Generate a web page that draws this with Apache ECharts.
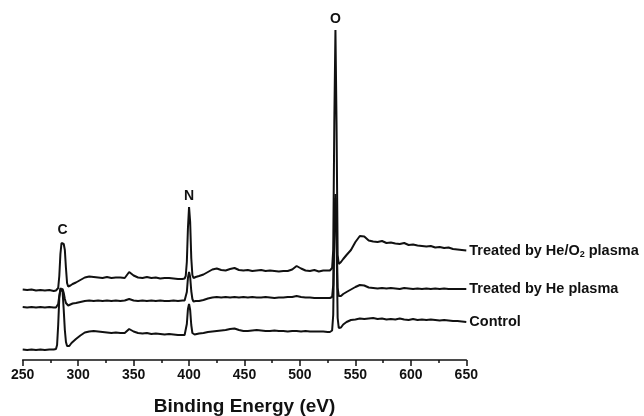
<!DOCTYPE html>
<html>
<head>
<meta charset="utf-8">
<script src="https://cdn.jsdelivr.net/npm/echarts@6/dist/echarts.min.js"></script>
<style>
  html, body { margin: 0; padding: 0; background: #fff; }
  #chart { width: 644px; height: 416px; }
</style>
</head>
<body>
<div id="chart"></div>
<script>
// Binding energy grid (eV)
const energy = [
  250,254,258,262,266,270,274,278,
  279,280,281,282,283,284,285,286,287,288,289,290,291,292,293,294,295,
  298,302,306,310,314,318,322,326,330,334,338,342,346,350,354,358,362,366,370,374,378,382,386,390,394,
  396,397,398,399,400,401,402,403,404,405,406,
  409,413,417,421,425,429,433,437,441,445,449,453,457,461,465,469,473,477,481,485,489,493,497,501,505,509,513,517,521,525,
  527,528,529,530,531,532,533,534,535,536,537,538,539,
  542,546,550,554,558,562,566,570,574,578,582,586,590,594,598,602,606,610,614,618,622,626,630,634,638,642,646,650
];

// Intensities (a.u., stacked with offsets as in the figure)
const heO2Plasma = [
  70.5,70,70.5,69.5,70,69.5,70,69,
  69,69.5,70,72,84,106,117,119,116,110,92,77,73.5,74,74.5,75.5,76,
  77.5,80,82.5,83.5,83,82.5,82,83,82,82.5,82.5,82,88,84.5,82.5,82,83,82,82.5,81.5,82,82,81.5,81,81,
  81.5,84,98,132,153,138,102,85,82,82.5,83,
  84,85.5,88,90.5,91.5,90,89.5,91,92,90,89.5,90,89,89.5,90,89,89.5,89,88.5,89,89,90.5,94,91.5,89.5,89,90,88.5,89.5,89.5,
  89.5,90,92,110,240,330,235,105,96,96.5,98,99.5,101,
  105,110,118,124,123.5,119.5,118.5,118,119,117,117.5,116.5,116,117,115,115.5,114.5,114,113.5,114,112.5,113,112,112.5,111,110.5,110,109.5
];

const hePlasma = [
  53,52.5,53,52.5,53,52.5,53,52.5,
  52.5,52.5,53,56,64,70,72,71,67,61,57,55,54.5,55,55.5,56,56.5,
  57,58,59,59.5,59,59.5,59,59.5,59,59.5,59,59.5,61,59.5,59,59.5,59,59.5,59,59.5,59,59,59.5,59,59.5,
  59.5,61,68,82,88,83,69,61,58.5,58.5,59,
  59,60,61.5,62.5,63,62.5,63,62.5,63,62.5,63,62.5,63,62.5,62.5,63,62.5,62,62.5,62.5,63,63,64,63,62.5,62.5,62,62,62,62,
  62,62,63,75,140,166,130,72,64,63.5,64,65,66,
  68,70.5,73,75,74.5,72.5,72,71.5,72,71.5,72,71.5,71,72,71.5,71,71.5,71,71.5,71,71.5,71,71.5,71,71,71,71,71
];

const control = [
  10.5,10,10.5,10,10.5,10,10.5,10.5,
  10.5,11,15,35,62,72,73,68,50,30,18,14,13.5,14,15.5,17,18.5,
  21,24.5,27.5,28.5,29,28.5,28,27.5,27,27.5,27,27,31,28.5,27,26.5,27,26,26.5,26,25.5,26,25.5,25,25,
  25,27,36,51,56,50,35,27,25,25.5,26,
  26.5,27,28,28.5,29,29.5,30,31,31.5,30,29,29,29.5,30,29.5,29,29,29.5,29,29,28.5,29,29,28.5,29,28.5,28.5,28.5,28.5,28,
  28,28.5,29.5,45,130,162,120,42,32,31.5,32.5,34,35.5,
  38,40,40.5,41.5,41,41.5,42,41,41.5,40.5,41,40.5,41.5,40.5,40,41,40,40.5,40,40.5,40,39.5,40,39.5,39,39,38.5,38
];

const seriesNames = ['Treated by He/O2 plasma', 'Treated by He plasma', 'Control'];
const peakLabels = ['C', 'N', 'O'];
const peakEnergies = [286, 400, 532];
const xTicks = [250, 300, 350, 400, 450, 500, 550, 600, 650];

const FONT = "'Liberation Sans', Arial, Helvetica, sans-serif";
const INK = '#111';

function pairs(vals) {
  return energy.map((e, i) => [e, vals[i]]);
}

const chart = echarts.init(document.getElementById('chart'), null, { renderer: 'canvas' });

function endLabel(formatter, rich) {
  return {
    show: true,
    distance: 3,
    formatter: formatter,
    color: INK,
    fontFamily: FONT,
    fontWeight: 'bold',
    fontSize: 14.5,
    rich: rich
  };
}

const richSub = {
  a: { fontFamily: FONT, fontWeight: 'bold', fontSize: 14.5, color: INK, lineHeight: 18 },
  s: { fontFamily: FONT, fontWeight: 'bold', fontSize: 9, color: INK, lineHeight: 9, verticalAlign: 'bottom' }
};

const peakMarks = peakLabels.map((name, k) => {
  const idx = energy.indexOf(peakEnergies[k]);
  return {
    name: name,
    coord: [peakEnergies[k], heO2Plasma[idx]],
    symbol: 'circle',
    symbolSize: 0,
    label: {
      show: true,
      position: 'top',
      distance: 4,
      formatter: name,
      color: INK,
      fontFamily: FONT,
      fontWeight: 'bold',
      fontSize: 14
    }
  };
});

const lineStyle = { color: INK, width: 2 };

const option = {
  animation: false,
  backgroundColor: '#fff',
  grid: { left: 22.7, right: 177.7, top: 20, bottom: 56, containLabel: false, outerBoundsMode: 'none' },
  xAxis: {
    type: 'value',
    min: 250,
    max: 650,
    interval: 50,
    name: 'Binding Energy (eV)',
    nameLocation: 'middle',
    nameGap: 37,
    nameTextStyle: { color: INK, fontFamily: FONT, fontWeight: 'bold', fontSize: 19 },
    axisLine: { show: true, lineStyle: { color: INK, width: 1.5 } },
    axisTick: { show: true, inside: false, length: 6, lineStyle: { color: INK, width: 1.5 } },
    minorTick: { show: true, splitNumber: 2, length: 3, lineStyle: { color: INK, width: 1.5 } },
    axisLabel: {
      color: INK, fontFamily: FONT, fontWeight: 'bold', fontSize: 14, margin: 8,
      formatter: v => (xTicks.indexOf(v) >= 0 ? String(v) : '')
    },
    splitLine: { show: false }
  },
  yAxis: {
    type: 'value',
    min: 0,
    max: 340,
    show: false,
    splitLine: { show: false }
  },
  series: [
    {
      name: seriesNames[0],
      type: 'line',
      data: pairs(heO2Plasma),
      showSymbol: false,
      symbol: 'none',
      lineStyle: lineStyle,
      endLabel: endLabel('{a|Treated by He/O}{s|2}{a| plasma}', richSub),
      markPoint: { data: peakMarks, silent: true },
      z: 3
    },
    {
      name: seriesNames[1],
      type: 'line',
      data: pairs(hePlasma),
      showSymbol: false,
      symbol: 'none',
      lineStyle: lineStyle,
      endLabel: endLabel(seriesNames[1]),
      z: 2
    },
    {
      name: seriesNames[2],
      type: 'line',
      data: pairs(control),
      showSymbol: false,
      symbol: 'none',
      lineStyle: lineStyle,
      endLabel: endLabel(seriesNames[2]),
      z: 1
    }
  ]
};

chart.setOption(option);
</script>
</body>
</html>
